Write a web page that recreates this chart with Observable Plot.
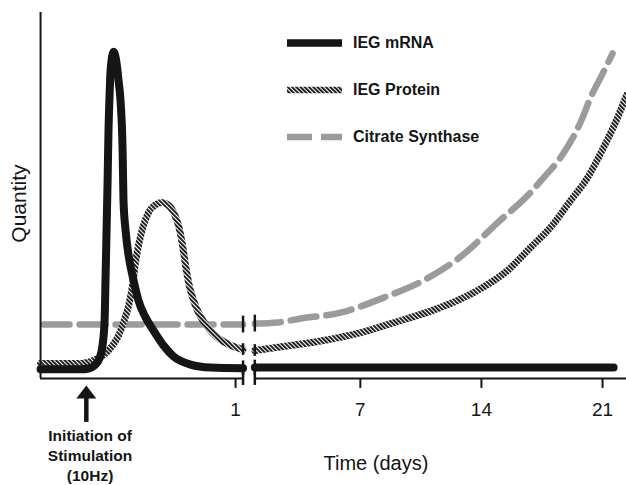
<!DOCTYPE html>
<html><head><meta charset="utf-8">
<script src="https://cdn.jsdelivr.net/npm/d3@7"></script>
<script src="https://cdn.jsdelivr.net/npm/@observablehq/plot@0.6"></script>
<style>
html,body{margin:0;padding:0;background:#fff;}
#chart{width:626px;height:485px;position:relative;}
</style></head><body><div id="chart"></div>
<script>
// ---- data ----
const seriesNames = ["IEG mRNA", "IEG Protein", "Citrate Synthase"];
const earlyTicks = [1];          // tick on the first-day (hours) segment
const dayTicks = [7, 14, 21];    // ticks on the days segment
// [time (days), quantity] — early segment (first day, expanded), late segment (days)
const mrnaEarly = [[-0.3,2.5],[-0.03,2.5],[0.02,2.73],[0.06,3.55],[0.093,5.46],[0.113,9.0],[0.127,15.8],[0.133,26.8],[0.14,40.4],[0.147,54.1],[0.153,67.8],[0.16,77.3],[0.167,84.2],[0.187,89.3],[0.207,86.1],[0.22,81.4],[0.233,76.0],[0.247,62.3],[0.253,48.6],[0.267,40.4],[0.287,33.6],[0.32,26.8],[0.353,21.3],[0.4,16.7],[0.453,13.1],[0.52,9.0],[0.587,6.0],[0.7,3.8],[0.833,3.0],[1.05,2.8]];
const mrnaLate = [[0.9,3.0],[21.64,3.0]];
const proteinEarly = [[-0.3,4.1],[-0.03,4.1],[0.033,4.64],[0.08,5.46],[0.133,6.83],[0.18,9.02],[0.22,11.75],[0.253,15.3],[0.287,19.9],[0.313,25.4],[0.333,31.7],[0.353,36.3],[0.38,41.0],[0.42,45.4],[0.467,47.5],[0.507,48.1],[0.547,47.5],[0.587,45.4],[0.62,41.8],[0.647,36.3],[0.667,30.9],[0.687,26.2],[0.72,21.3],[0.767,16.9],[0.82,13.7],[0.88,11.2],[0.953,9.3],[1.05,7.9]];
const proteinLate = [[0.9,7.65],[2.97,9.02],[4.88,10.38],[6.84,12.3],[8.75,15.0],[11.06,18.4],[12.62,21.3],[13.95,24.5],[15.51,29.5],[16.84,35.8],[18.0,41.3],[19.15,48.6],[20.14,54.9],[21.06,63.1],[21.87,71.3],[22.4,77.5]];
const citrateEarly = [[-0.28,14.75],[1.05,14.75]];
const citrateLate = [[0.9,15.0],[2.22,15.3],[3.55,16.4],[5.86,18.0],[8.35,22.1],[10.66,26.8],[12.8,33.3],[14.94,42.6],[16.84,50.8],[17.6,54.9],[18.58,60.4],[19.85,71.3],[20.31,76.8],[20.89,82.2],[21.58,88.8]];
const annotation = "Initiation of\nStimulation\n(10Hz)";

// ---- broken time axis: early segment expanded, then days ----
const EARLY_SCALE = 150 / 17.3;
const LATE_OFFSET = (256 - 85) / 17.3 - 1;
const pos = (seg, t) => seg === "early" ? t * EARLY_SCALE : t + LATE_OFFSET;
const toRows = (series, seg, arr) => arr.map(([t, v]) => ({series, seg, t, v, u: pos(seg, t)}));

const mrnaRows = [...toRows(seriesNames[0], "early", mrnaEarly), ...toRows(seriesNames[0], "late", mrnaLate)];
const proteinRows = [...toRows(seriesNames[1], "early", proteinEarly), ...toRows(seriesNames[1], "late", proteinLate)];
const citrateRows = [...toRows(seriesNames[2], "early", citrateEarly), ...toRows(seriesNames[2], "late", citrateLate)];

const halfMark = {[seriesNames[0]]: 2.0, [seriesNames[1]]: 1.6, [seriesNames[2]]: 2.3};
const breakRows = [];
for (const [name, early, late] of [[seriesNames[0], mrnaEarly, mrnaLate],[seriesNames[1], proteinEarly, proteinLate],[seriesNames[2], citrateEarly, citrateLate]]) {
  const a = early[early.length - 1], b = late[0], h = halfMark[name];
  breakRows.push({u: pos("early", a[0]), y1: a[1] - h, y2: a[1] + h});
  breakRows.push({u: pos("late", b[0]), y1: b[1] - h, y2: b[1] + h});
}
const axisStart = -0.3, earlyEnd = 1.05, lateStart = 0.9;
breakRows.push({u: pos("early", earlyEnd), y1: -1.9, y2: 1.7});
breakRows.push({u: pos("late", lateStart), y1: -1.9, y2: 1.7});
const X_MAX = 31.27;
const axisSegs = [{x1: pos("early", axisStart), x2: pos("early", earlyEnd)}, {x1: pos("late", lateStart), x2: X_MAX}];

const arrowHead = {draw(ctx) { ctx.moveTo(0, 0); ctx.lineTo(-10, 13); ctx.lineTo(10, 13); ctx.closePath(); }};
const INK = "#151515";

const plot = Plot.plot({
  width: 626, height: 485,
  marginTop: 12, marginBottom: 107, marginLeft: 38, marginRight: 0,
  x: {domain: [-2.72, X_MAX], axis: null},
  y: {domain: [0, 100], axis: null},
  style: {fontFamily: "'Liberation Sans', Arial, sans-serif", background: "#fff", overflow: "visible", color: INK},
  marks: [
    Plot.line(citrateRows, {x: "u", y: "v", z: "seg", stroke: "#9b9b9b", strokeWidth: 6.5, strokeDasharray: "26,10", curve: "monotone-x"}),
    Plot.line(proteinRows, {x: "u", y: "v", z: "seg", stroke: "url(#hatch)", strokeWidth: 7, curve: "monotone-x", strokeLinejoin: "round"}),
    Plot.line(mrnaRows, {x: "u", y: "v", z: "seg", stroke: INK, strokeWidth: 8, curve: "monotone-x", strokeLinejoin: "round"}),
    Plot.ruleX([axisStart], {x: t => pos("early", t), y1: 0, y2: 100, stroke: INK, strokeWidth: 2}),
    Plot.ruleY(axisSegs, {x1: "x1", x2: "x2", y: 0, stroke: INK, strokeWidth: 2}),
    Plot.ruleX(breakRows, {x: "u", y1: "y1", y2: "y2", stroke: INK, strokeWidth: 2.5}),
    Plot.ruleX(earlyTicks, {x: t => pos("early", t), y1: 0, y2: -2.7, stroke: INK, strokeWidth: 2}),
    Plot.ruleX(dayTicks, {x: d => pos("late", d), y1: 0, y2: -2.7, stroke: INK, strokeWidth: 2}),
    Plot.text(earlyTicks, {x: t => pos("early", t), y: -8.5, text: d => String(d), fontSize: 19, fill: INK}),
    Plot.text(dayTicks, {x: d => pos("late", d), y: -8.5, text: d => String(d), fontSize: 19, fill: INK}),
    Plot.text(["Time (days)"], {x: pos("late", 7.9), y: -23.2, text: d => d, fontSize: 20, fill: INK}),
    Plot.text(["Quantity"], {x: pos("early", axisStart), dx: -21, y: 47.8, text: d => d, rotate: -90, fontSize: 21, fill: INK}),
    Plot.ruleX([0.005], {x: t => pos("early", t), y1: -4.6, y2: -12, stroke: INK, strokeWidth: 4.5}),
    Plot.dot([0.005], {x: t => pos("early", t), y: -1.9, symbol: arrowHead, fill: INK, stroke: "none"}),
    Plot.text([annotation], {x: pos("early", 0.03), y: -20.8, text: d => d, fontSize: 15.5, fontWeight: "bold", lineHeight: 1.3, fill: INK})
  ]
});

d3.select(plot).insert("defs", ":first-child").html(
  `<pattern id="hatch" patternUnits="userSpaceOnUse" width="3" height="3" patternTransform="rotate(-45)">
     <rect width="3" height="3" fill="#fff"/><rect width="1.9" height="3" fill="#151515"/>
   </pattern>`);

// legend
const lg = d3.select(plot).append("g").attr("text-anchor", "start");
const legendStyles = [
  {stroke: INK, width: 7.5, dash: null},
  {stroke: "url(#hatch)", width: 6.5, dash: null},
  {stroke: "#9b9b9b", width: 6.5, dash: "25,9"}
];
seriesNames.forEach((name, i) => {
  const y = 43 + i * 47;
  const s = legendStyles[i];
  lg.append("line").attr("x1", 287).attr("x2", 342).attr("y1", y).attr("y2", y)
    .attr("stroke", s.stroke).attr("stroke-width", s.width).attr("stroke-dasharray", s.dash);
  lg.append("text").attr("x", 353).attr("y", y - 1).attr("dy", "0.35em")
    .attr("text-anchor", "start")
    .attr("font-size", 16).attr("font-weight", "bold").attr("fill", INK)
    .attr("font-family", "'Liberation Sans', Arial, sans-serif").text(name);
});

document.getElementById("chart").appendChild(plot);
</script>
</body></html>
